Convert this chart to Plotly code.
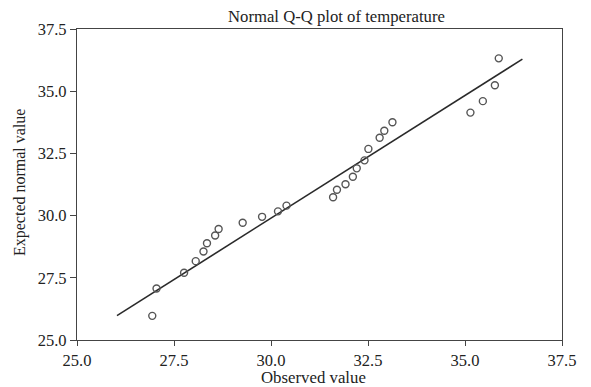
import plotly.graph_objects as go

observed = [26.94, 27.05, 27.76, 28.06, 28.26, 28.35, 28.56, 28.65, 29.27, 29.77,
            30.18, 30.40, 31.60, 31.70, 31.92, 32.11, 32.21, 32.41, 32.51, 32.80,
            32.92, 33.13, 35.14, 35.46, 35.77, 35.87]
expected = [25.97, 27.07, 27.70, 28.17, 28.56, 28.89, 29.20, 29.46, 29.71, 29.95,
            30.17, 30.40, 30.74, 31.04, 31.26, 31.56, 31.90, 32.22, 32.68, 33.13,
            33.41, 33.75, 34.14, 34.60, 35.24, 36.32]
line_x = [26.03, 36.48]
line_y = [25.98, 36.29]

x_ticks = [25.0, 27.5, 30.0, 32.5, 35.0, 37.5]
y_ticks = [25.0, 27.5, 30.0, 32.5, 35.0, 37.5]

fig = go.Figure()
fig.add_trace(go.Scatter(x=line_x, y=line_y, mode="lines",
                         line=dict(color="#2a2a2a", width=1.6), showlegend=False))
fig.add_trace(go.Scatter(x=observed, y=expected, mode="markers",
                         marker=dict(symbol="circle-open", size=7,
                                     color="#555555", line=dict(width=1.4)),
                         showlegend=False))

fam = "Liberation Serif, Times New Roman, serif"
axis_common = dict(range=[25, 37.5], showgrid=False, zeroline=False, showline=True,
                   linecolor="#444", linewidth=1.2, mirror=True, ticks="outside",
                   tickcolor="#444", automargin=False,
                   tickfont=dict(family=fam, size=16.5, color="#222"))
fig.update_layout(
    width=591, height=387,
    margin=dict(l=77, r=29, t=29, b=47),
    paper_bgcolor="white", plot_bgcolor="white",
    font=dict(family=fam, size=16, color="#222"),
    xaxis=dict(tickvals=x_ticks, ticktext=[f"{v:.1f}" for v in x_ticks],
               ticklen=5, **axis_common),
    yaxis=dict(tickvals=y_ticks, ticktext=[f"{v:.1f}" for v in y_ticks],
               ticklen=6, **axis_common),
    annotations=[
        dict(text="Normal Q-Q plot of temperature", xref="paper", yref="paper",
             x=0.536, y=1.0386, xanchor="center", yanchor="middle", showarrow=False,
             font=dict(family=fam, size=16.7, color="#222")),
        dict(text="Observed value", xref="paper", yref="paper", x=0.4876, y=-0.122,
             xanchor="center", yanchor="middle", showarrow=False,
             font=dict(family=fam, size=16.8, color="#222")),
        dict(text="Expected normal value", xref="paper", yref="paper", x=-0.1175,
             y=0.508, xanchor="center", yanchor="middle", textangle=-90,
             showarrow=False, font=dict(family=fam, size=16, color="#222")),
    ],
)
fig.write_html("out.html")
